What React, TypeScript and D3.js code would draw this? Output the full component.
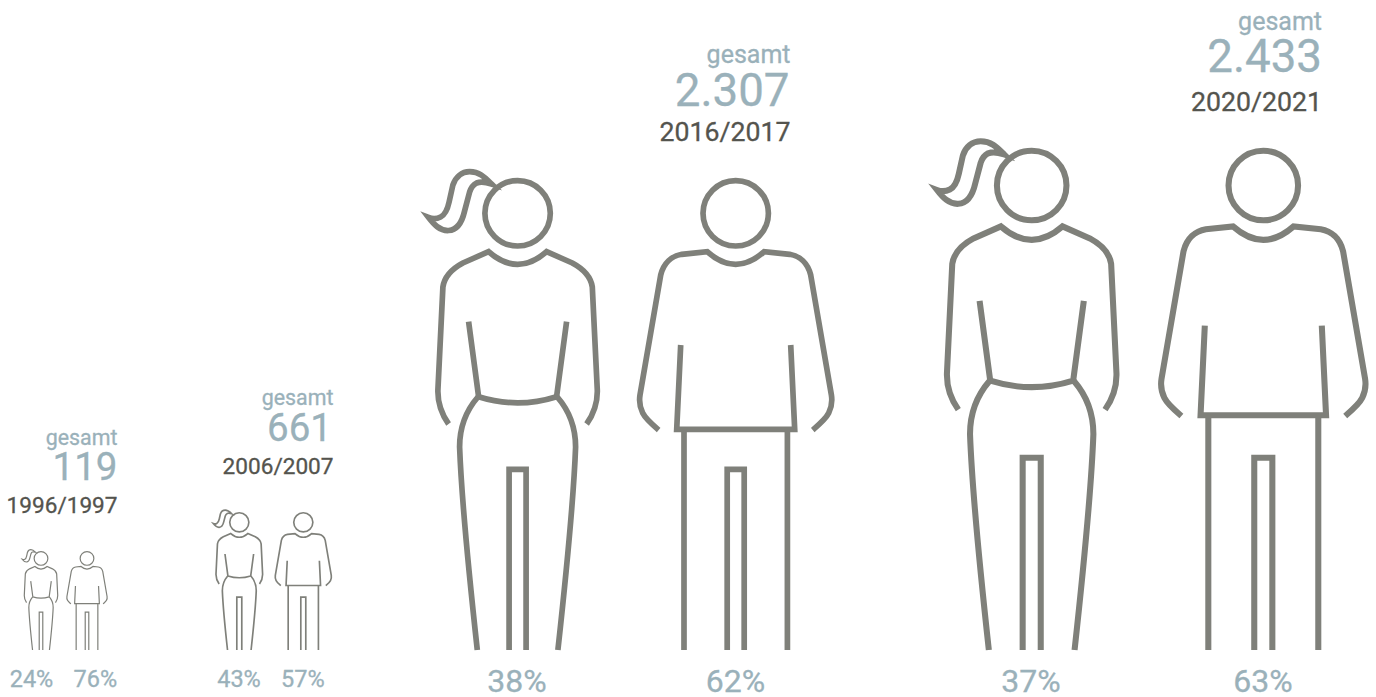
import React from "react";
import * as d3 from "d3";

// ---- data ----
const periods = ["1996/1997", "2006/2007", "2016/2017", "2020/2021"];
const totals = ["119", "661", "2.307", "2.433"];
const womenShare = [24, 43, 38, 37];
const menShare = [76, 57, 62, 63];
const figureHeights = [99, 138, 472, 502];
const womanCenters = [41, 239.3, 517.6, 1031.7];
const manCenters = [87, 303.3, 735.7, 1263.3];
const shareCenters = [[31.5, 95.3], [239, 302.8], [517, 735.5], [1031, 1263]];
const textRight = [117.5, 333.5, 790.5, 1322];
const totalRight = [117.5, 332, 789.5, 1322];
const gesamtBase = [445, 405, 63, 30];
const totalBase = [480, 441, 106, 71.7];
const yearBase = [513.3, 474.3, 140.7, 110.7];
const gesamtSize = [21.4, 21.4, 25, 25];
const totalSize = [38.5, 38.5, 45.7, 45.7];
const yearSize = [22.6, 22.6, 26.7, 26.7];
const shareSize = [23.5, 23.5, 32, 32];
const shareBase = [686.7, 686.7, 691.7, 691.7];

const FOOT_Y = 650;
const REF_HEIGHT = 472;
const STROKE = 5.7;
const INK = "#7f807a";
const BLUE = "#9ab1ba";
const DARK = "#54544e";
const TEXT_EDGE = 0.3;

// outlines of the reference figure, in a frame with feet at y = 0
const HEAD_R = 32.7;
const HEAD_Y = -436.7;
const womanPaths = [
  "M-89,-432.5 C-85,-431 -81,-431 -77,-433 C-72,-435.5 -70,-441 -68.5,-448 L-64.7,-465 C-62,-473 -56,-478.3 -48,-478.3 C-38,-478.3 -33,-473 -26,-466 C-32,-468 -36,-469 -41,-467 C-45,-465 -47,-461 -48,-458 L-53,-439 C-55.5,-428 -60,-420 -69,-419.5 C-78,-419 -84,-426 -89,-432.5 Z",
  "M-69,-226 C-76,-236 -80,-248 -79.7,-260 L-74.7,-363 C-73,-375 -64,-382 -54.7,-387 L-29,-398.3 Q0,-373 29,-398.3 L54.7,-387 C64,-382 73,-375 74.7,-363 L79.7,-260 C80,-248 76,-236 69,-226",
  "M-49,-328.3 L-39,-253.3 Q0,-241 39,-253.3 L49,-328.3",
  "M-39.7,-253 C-51,-240 -58,-224 -58,-203 C-56,-150 -48,-70 -40.3,0",
  "M39.7,-253 C51,-240 58,-224 58,-203 C56,-150 48,-70 40.3,0",
  "M-8.5,0 L-8.5,-180.7 L8.5,-180.7 L8.5,0",
];
const manPaths = [
  "M-77,-220 C-84,-226 -90,-231 -93,-237 C-96,-243 -96.5,-250 -95.7,-255 L-75,-375 C-72,-387 -64,-394 -54,-395.7 L-28.5,-398.3 Q0,-373 28.5,-398.3 L54,-395.7 C64,-394 72,-387 75,-375 L95.7,-255 C96.5,-250 96,-243 93,-237 C90,-231 84,-226 77,-220",
  "M-55,-305 L-59,-220.7 L59,-220.7 L55,-305",
  "M-51.7,-220.7 L-51.7,0",
  "M51.7,-220.7 L51.7,0",
  "M-8.5,0 L-8.5,-180.7 L8.5,-180.7 L8.5,0",
];

function Figure({ cx, height, paths }: { cx: number; height: number; paths: string[] }) {
  const k = d3.scaleLinear().domain([0, REF_HEIGHT]).range([0, height])(1);
  return (
    <g
      transform={`translate(${cx},${FOOT_Y}) scale(${k})`}
      fill="none"
      stroke={INK}
      strokeWidth={STROKE}
      strokeLinejoin="miter"
      strokeMiterlimit={8}
    >
      {paths.map((d, i) => (
        <path key={i} d={d} />
      ))}
      <circle cx={0} cy={HEAD_Y} r={HEAD_R} />
    </g>
  );
}

export default function App() {
  return (
    <svg
      width={1376}
      height={697}
      viewBox="0 0 1376 697"
      style={{ position: "absolute", left: 0, top: 0, background: "#fff", fontFamily: "Roboto" }}
    >
      {periods.map((period, i) => (
        <g key={period}>
          <Figure cx={womanCenters[i]} height={figureHeights[i]} paths={womanPaths} />
          <Figure cx={manCenters[i]} height={figureHeights[i]} paths={manPaths} />
          <g fill={BLUE} stroke={BLUE} strokeWidth={TEXT_EDGE}>
            <text x={textRight[i]} y={gesamtBase[i]} textAnchor="end" fontSize={gesamtSize[i]}>
              gesamt
            </text>
            <text x={totalRight[i]} y={totalBase[i]} textAnchor="end" fontSize={totalSize[i]}>
              {totals[i]}
            </text>
            <text x={shareCenters[i][0]} y={shareBase[i]} textAnchor="middle" fontSize={shareSize[i]}>
              {womenShare[i]}%
            </text>
            <text x={shareCenters[i][1]} y={shareBase[i]} textAnchor="middle" fontSize={shareSize[i]}>
              {menShare[i]}%
            </text>
          </g>
          <text
            x={textRight[i]}
            y={yearBase[i]}
            textAnchor="end"
            fontSize={yearSize[i]}
            fill={DARK}
            stroke={DARK}
            strokeWidth={TEXT_EDGE}
          >
            {period}
          </text>
        </g>
      ))}
    </svg>
  );
}
